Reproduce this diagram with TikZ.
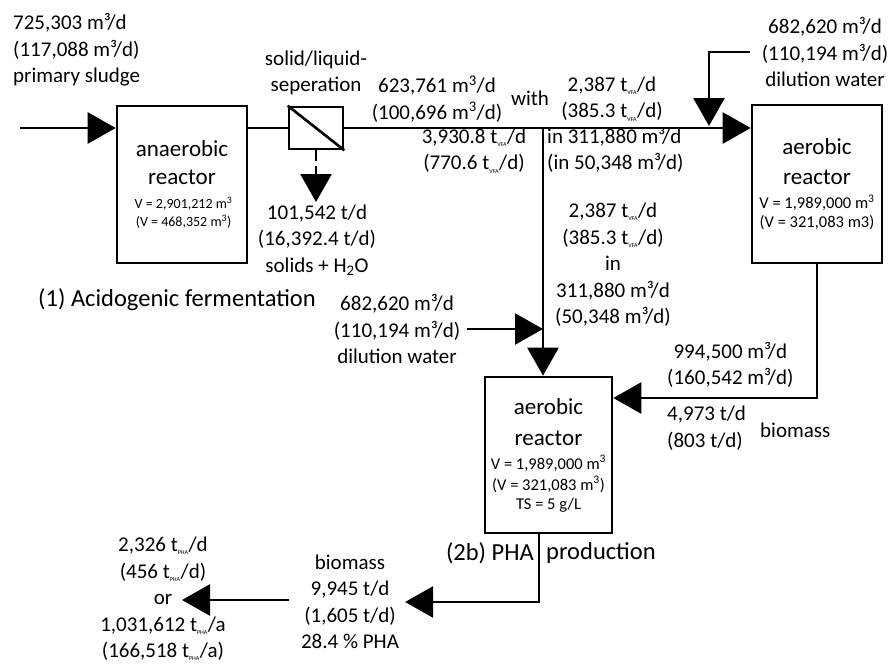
\documentclass[tikz,border=0pt]{standalone}
\usepackage{fontspec}
\setmainfont{Carlito}
\usetikzlibrary{arrows.meta}

\newcommand{\tsub}[1]{t\textsubscript{\fontsize{6}{6}\selectfont #1}}
\newcommand{\petit}[1][16.5]{\fontsize{#1}{19}\selectfont}

\tikzset{
  reacteur/.style={draw, line width=2.6pt, minimum width=130pt,
    minimum height=157pt, align=center, inner sep=0pt,
    font=\fontsize{23}{29}\selectfont},
  flux/.style={line width=2.6pt},
  fleche/.style={flux, -{Triangle[length=28pt,width=31pt]}},
  texte/.style={align=center, inner sep=0pt},
  etape/.style={texte, font=\fontsize{24.5}{29}\selectfont}
}

\begin{document}
\begin{tikzpicture}[x=1pt,y=-1pt,font=\fontsize{21}{26.5}\selectfont]

\useasboundingbox
(0,0)
rectangle
(889,664);

% Réacteurs
\node[reacteur]
(anaerobie) at (182,184.5)
{anaerobic\\[-1pt]reactor\\[-5pt]{\petit[14] V = 2,901,212 m\textsuperscript{3}}\\[-11pt]{\petit[14] (V = 468,352 m\textsuperscript{3})}};

\node[reacteur, minimum height=158pt]
(aerobie1) at (817,184)
{aerobic\\[1pt]reactor\\[-5pt]{\petit V = 1,989,000 m\textsuperscript{3}}\\[-10pt]{\petit (V = 321,083 m3)}};

\node[reacteur, minimum width=127pt, minimum height=156pt]
(aerobie2) at (548.5,455)
{aerobic\\[2pt]reactor\\[-5pt]{\petit V = 1,989,000 m\textsuperscript{3}}\\[-8pt]{\petit (V = 321,083 m\textsuperscript{3})}\\[-10pt]{\petit TS = 5 g/L}};

% Séparation
\node[draw, line width=2.6pt, minimum width=54pt, minimum height=42pt, inner sep=0pt]
(separateur) at (316,128)
{};

% Textes
\node[texte, anchor=west, align=left]
(boue) at (13,50)
{725,303 m³/d\\(117,088 m³/d)\\primary sludge};

\node[texte]
(sepTxt) at (316,73)
{solid/liquid-\\seperation};

\node[texte]
(solides) at (317,240)
{101,542 t/d\\(16,392.4 t/d)\\solids + H\textsubscript{2}O};

\node[texte]
(debit1) at (437,99)
{623,761 m\textsuperscript{3}/d\\(100,696 m\textsuperscript{3}/d)};

\node[texte]
(avec) at (530,98)
{with};

\node[texte]
(vfa1) at (612,99)
{2,387 \tsub{VFA}/d\\(385.3 \tsub{VFA}/d)};

\node[texte]
(vfaTot) at (474,151)
{3,930.8 \tsub{VFA}/d\\(770.6 \tsub{VFA}/d)};

\node[texte, anchor=west, align=left]
(vol1) at (547,150)
{in 311,880 m³/d\\(in 50,348 m³/d)};

\node[texte]
(dilution1) at (825,52)
{682,620 m³/d\\(110,194 m³/d)\\dilution water};

\node[etape]
(etape1) at (177,300)
{(1) Acidogenic fermentation};

\node[texte]
(vfa2) at (613,265)
{2,387 \tsub{VFA}/d\\(385.3 \tsub{VFA}/d)\\in\\311,880 m³/d\\(50,348 m³/d)};

\node[texte]
(dilution2) at (397,329)
{682,620 m³/d\\(110,194 m³/d)\\dilution water};

\node[texte, anchor=west]
(retour) at (667,365)
{994,500 m³/d\\(160,542 m³/d)};

\node[texte, anchor=west, align=left]
(biomasse1) at (667,428)
{4,973 t/d\\(803 t/d)};

\node[texte, anchor=west]
(biomasseLbl) at (760,430)
{biomass};

\node[etape, anchor=east]
(etape2a) at (534,553)
{(2b) PHA};

\node[etape, anchor=west]
(etape2b) at (546,553)
{production};

\node[texte]
(biomasse2) at (350,602)
{biomass\\9,945 t/d\\(1,605 t/d)\\28.4 \% PHA};

\node[texte]
(pha) at (163,599)
{2,326 \tsub{PHA}/d\\(456 \tsub{PHA}/d)\\or\\1,031,612 \tsub{PHA}/a\\(166,518 \tsub{PHA}/a)};

% Points
\coordinate (entree) at (20,128);
\coordinate (jonction) at (543,128);
\coordinate (eau1) at (709,126);
\coordinate (dechets) at (316,202);
\coordinate (coude) at (817,398);
\coordinate (sortie) at (539,602);
\coordinate (produit) at (182,600);

% Flèches
\draw[fleche]
(entree)
--
(entree -| anaerobie.west);

\draw[flux]
(anaerobie.east |- separateur.west)
--
(separateur.west);

\draw[flux]
(separateur.north west)
--
(separateur.south east);

\draw[fleche, dash pattern=on 11pt off 5pt]
(separateur.south)
--
(dechets);

\draw[fleche]
(separateur.east)
--
(separateur.east -| aerobie1.west);

\draw[fleche]
([xshift=-12pt]dilution1.west)
-|
(eau1);

\draw[fleche]
(jonction)
--
(jonction |- aerobie2.north);

\draw[fleche]
([xshift=7pt]dilution2.east)
--
(dilution2.east -| jonction);

\draw[fleche]
(aerobie1.south)
--
(coude)
--
(coude -| aerobie2.east);

\draw[fleche]
(aerobie2.south -| sortie)
--
(sortie)
--
([xshift=6pt]biomasse2.east |- sortie);

\draw[fleche]
([xshift=-12pt]biomasse2.west |- produit)
--
(produit);

\end{tikzpicture}
\end{document}
